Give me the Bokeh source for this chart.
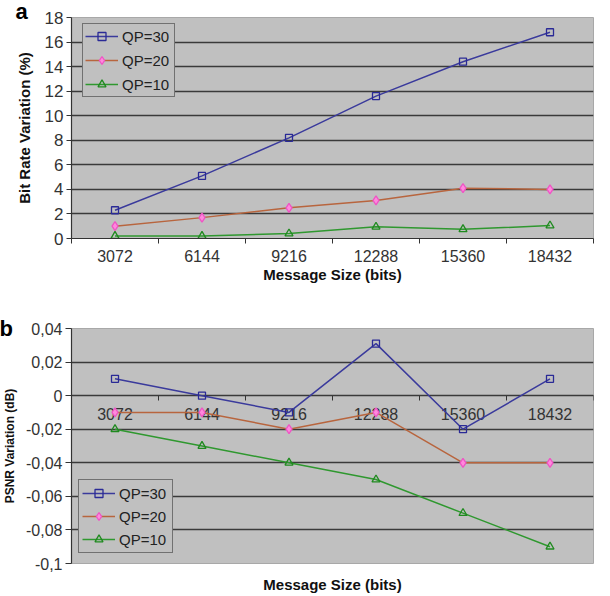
import numpy as np
from bokeh.plotting import figure
from bokeh.layouts import column
from bokeh.models import (LinearAxis, FixedTicker, Range1d, Legend, LegendItem,
                          Grid, CustomJSTickFormatter, Title)
from bokeh.embed import file_html
from bokeh.resources import INLINE

# ---- data ----
sizes = ["3072", "6144", "9216", "12288", "15360", "18432"]
series = ["QP=30", "QP=20", "QP=10"]
bitrate_qp30 = [2.3, 5.1, 8.2, 11.6, 14.4, 16.8]
bitrate_qp20 = [1.0, 1.7, 2.5, 3.1, 4.1, 4.0]
bitrate_qp10 = [0.2, 0.2, 0.4, 0.95, 0.75, 1.05]
psnr_qp30 = [0.01, 0.0, -0.01, 0.031, -0.02, 0.01]
psnr_qp20 = [-0.01, -0.01, -0.02, -0.01, -0.04, -0.04]
psnr_qp10 = [-0.02, -0.03, -0.04, -0.05, -0.07, -0.09]
bitrate_ticks = [0, 2, 4, 6, 8, 10, 12, 14, 16, 18]
psnr_ticks = [-0.1, -0.08, -0.06, -0.04, -0.02, 0.0, 0.02, 0.04]
panel_letters = ["a", "b"]

# ---- style ----
FONT = "Liberation Sans"
BG = "#c0c0c0"
GRID = "#3a3a3a"
AX = "#333333"
colors = {"QP=30": "#3a3a9c", "QP=20": "#b8653e", "QP=10": "#2f982f"}
markers = {"QP=30": ("square", 7, "#2a2a96", None),
           "QP=20": ("diamond", 9, "#ee55c4", "#ff88dd"),
           "QP=10": ("triangle", 8, "#1f8a1f", None)}

n = len(sizes)
xs = [i + 0.5 for i in range(n)]
bounds = [float(i) for i in range(n + 1)]
xlabels = {x: s for x, s in zip(xs, sizes)}


def base_fig(height, y0, y1, mb_top, mb_bottom, mb_right):
    p = figure(width=610, height=height, x_range=Range1d(0, n), y_range=Range1d(y0, y1),
               output_backend="svg", toolbar_location=None,
               x_axis_type=None, y_axis_type=None,
               min_border_left=67, min_border_right=mb_right,
               min_border_top=mb_top, min_border_bottom=mb_bottom,
               background_fill_color=BG, border_fill_color="white",
               outline_line_color="#a8a8a8", outline_line_width=1)
    return p


def style_axis(ax, tick_px="16px"):
    ax.axis_line_color = AX
    ax.axis_line_width = 1.2
    ax.major_tick_line_color = AX
    ax.minor_tick_line_color = AX
    ax.major_label_text_font = FONT
    ax.major_label_text_font_size = tick_px
    ax.major_label_text_color = "#333333"
    ax.axis_label_text_font = FONT
    ax.axis_label_text_font_style = "bold"
    ax.axis_label_text_color = "#111111"


def add_series(p, values):
    items = []
    for name, vals in zip(series, values):
        ln = p.line(xs, vals, line_color=colors[name], line_width=1.5)
        mk, sz, lc, fc = markers[name]
        sc = p.scatter(xs, vals, marker=mk, size=sz, line_color=lc, line_width=1.3,
                       fill_color=fc)
        items.append(LegendItem(label=name, renderers=[ln, sc]))
    return items


def add_legend(p, items, loc, padding, spacing):
    lg = Legend(items=items, location=loc, padding=padding, spacing=spacing, margin=0,
                label_text_font=FONT, label_text_font_size="15px", label_text_color="#222222",
                glyph_width=33, glyph_height=20, label_height=20, label_standoff=4,
                label_width=50,
                background_fill_color=BG, background_fill_alpha=1.0,
                border_line_color="#222222", border_line_width=1.2)
    p.add_layout(lg)


def add_panel_letter(p, letter, offset, standoff):
    p.add_layout(Title(text=letter, align="left", offset=offset, standoff=standoff,
                       text_font=FONT, text_font_size="22px", text_font_style="bold",
                       text_color="#000000"), "above")


# ================= chart a =================
p1 = base_fig(300, 0, 18, 17, 62, 1)
yax1 = LinearAxis(ticker=FixedTicker(ticks=bitrate_ticks), axis_label="Bit Rate Variation (%)")
style_axis(yax1, "17px")
yax1.major_tick_out = 5
yax1.major_tick_in = 0
yax1.major_label_standoff = 3
yax1.axis_label_text_font_size = "15px"
yax1.axis_label_standoff = 9
p1.add_layout(yax1, "left")

xax1 = LinearAxis(ticker=FixedTicker(ticks=xs, minor_ticks=bounds),
                  major_label_overrides=xlabels, axis_label="Message Size (bits)")
style_axis(xax1, "16px")
xax1.major_tick_out = 0
xax1.major_tick_in = 0
xax1.minor_tick_out = 5
xax1.minor_tick_in = 0
xax1.major_label_standoff = 6
xax1.axis_label_text_font_size = "15px"
xax1.axis_label_standoff = 1
p1.add_layout(xax1, "below")

p1.add_layout(Grid(dimension=1, ticker=FixedTicker(ticks=bitrate_ticks[1:-1]),
                   grid_line_color=GRID, grid_line_width=1.6))

items1 = add_series(p1, [bitrate_qp30, bitrate_qp20, bitrate_qp10])
add_legend(p1, items1, (11, 141), 2, 4)
add_panel_letter(p1, panel_letters[0], -56, -13)

# ================= chart b =================
p2 = base_fig(296, psnr_ticks[0], psnr_ticks[-1], 28, 33, 17)
fmt = CustomJSTickFormatter(code="return (Math.round(tick*100)/100).toString().replace('.', ',');")
yax2 = LinearAxis(ticker=FixedTicker(ticks=psnr_ticks), formatter=fmt,
                  axis_label="PSNR Variation (dB)")
style_axis(yax2, "16px")
yax2.major_tick_out = 6
yax2.major_tick_in = 0
yax2.major_label_standoff = 3
yax2.axis_label_text_font_size = "12px"
yax2.axis_label_standoff = 6
p2.add_layout(yax2, "left")

xtitle2 = LinearAxis(ticker=FixedTicker(ticks=[]), axis_label="Message Size (bits)")
style_axis(xtitle2)
xtitle2.axis_line_color = None
xtitle2.major_tick_line_color = None
xtitle2.minor_tick_line_color = None
xtitle2.axis_label_text_font_size = "15px"
xtitle2.axis_label_standoff = 12
p2.add_layout(xtitle2, "below")

xax2 = LinearAxis(fixed_location=0, ticker=FixedTicker(ticks=xs, minor_ticks=bounds),
                  major_label_overrides=xlabels, level="underlay")
style_axis(xax2, "16px")
xax2.major_tick_out = 0
xax2.major_tick_in = 0
xax2.minor_tick_out = 5
xax2.minor_tick_in = 0
xax2.major_label_standoff = 7
p2.add_layout(xax2, "below")

p2.add_layout(Grid(dimension=1, ticker=FixedTicker(ticks=psnr_ticks[1:-1]),
                   grid_line_color=GRID, grid_line_width=1.6))

items2 = add_series(p2, [psnr_qp30, psnr_qp20, psnr_qp10])
add_legend(p2, items2, (7, 10), 3, 3)
add_panel_letter(p2, panel_letters[1], -72, -24)

layout = column(p1, p2, spacing=0)
open("out.html", "w").write(file_html(layout, INLINE))
